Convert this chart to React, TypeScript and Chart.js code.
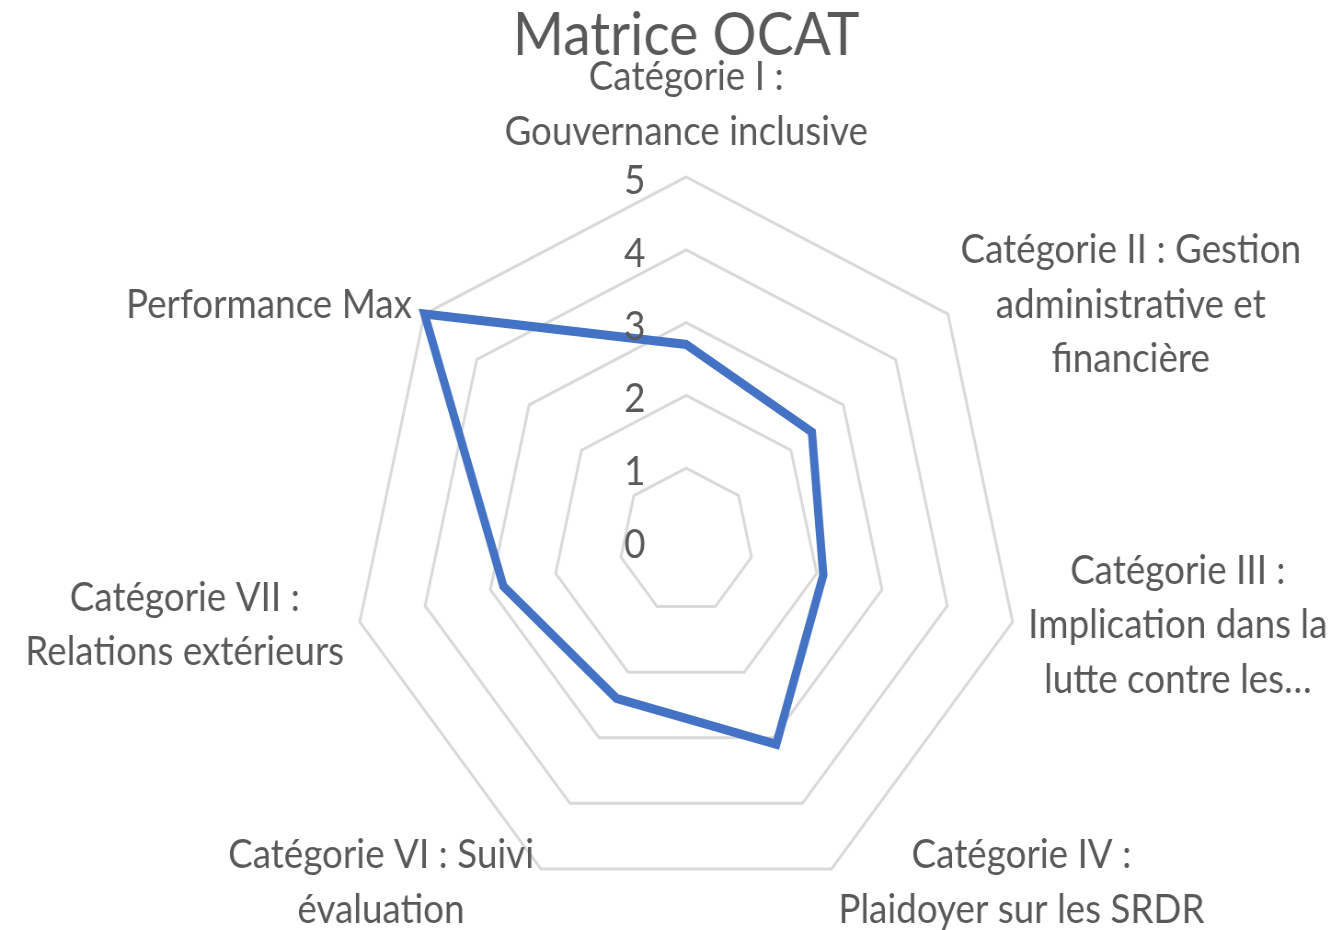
import React, { useEffect, useRef } from "react";
import { Chart, registerables } from "chart.js";

Chart.register(...registerables);

// ---- data ----
const categories: string[][] = [
  ["Catégorie I :", "Gouvernance inclusive"],
  ["Catégorie II : Gestion", "administrative et", "financière"],
  ["Catégorie III :", "Implication dans la", "lutte contre les…"],
  ["Catégorie IV :", "Plaidoyer sur les SRDR"],
  ["Catégorie VI : Suivi", "évaluation"],
  ["Catégorie VII :", "Relations extérieurs"],
  ["Performance Max"],
];
const scores: number[] = [2.7, 2.4, 2.1, 3.1, 2.4, 2.8, 5];
const tickValues: number[] = [0, 1, 2, 3, 4, 5];
const chartTitle = "Matrice OCAT";
const seriesName = "Score OCAT";

// ---- styles ----
const CSS_W = 1342;
const CSS_H = 930;
const SX = 0.92; // horizontal squeeze of the reference picture
const INT_W = Math.round(CSS_W / SX);
const FONT = "Lato, 'Open Sans', sans-serif";
const TEXT = "#595959";
const LABEL_SIZE = 40;
const LINE_H = 54.5;

const labelPlugin = {
  id: "ocatLabels",
  afterDatasetsDraw(chart: any) {
    const r = chart.scales.r;
    const ctx = chart.ctx;
    const n = categories.length;
    ctx.save();
    ctx.fillStyle = TEXT;
    ctx.font = `${LABEL_SIZE}px ${FONT}`;
    ctx.textBaseline = "middle";
    ctx.textAlign = "center";
    // point labels: block placed beside the vertex, lines centred inside block
    categories.forEach((lines, i) => {
      const p = r.getPointPositionForValue(i, r.max);
      const a = (i * 2 * Math.PI) / n;
      const s = Math.sin(a);
      const c = Math.cos(a);
      const blockH = lines.length * LINE_H;
      const blockW = Math.max(...lines.map((l) => ctx.measureText(l).width));
      let cx = p.x;
      let cy: number;
      if (Math.abs(s) < 0.05) {
        cy = p.y - 18 - blockH / 2;
      } else {
        const edge = p.x + (16 * s) / SX;
        cx = s > 0 ? edge + blockW / 2 : edge - blockW / 2;
        cy = p.y - 15 * c;
      }
      lines.forEach((l, k) => {
        ctx.fillText(l, cx, cy - blockH / 2 + LINE_H * (k + 0.5));
      });
    });
    // radial tick labels
    tickValues.forEach((v) => {
      const p = r.getPointPositionForValue(0, v);
      ctx.fillText(String(v), p.x - 56, p.y + 4);
    });
    ctx.restore();
  },
};

export default function App() {
  const ref = useRef<HTMLCanvasElement | null>(null);
  useEffect(() => {
    if (!ref.current) return;
    const chart = new Chart(ref.current, {
      type: "radar",
      data: {
        labels: categories,
        datasets: [
          {
            label: seriesName,
            data: scores,
            borderColor: "#4472C4",
            backgroundColor: "rgba(0,0,0,0)",
            borderWidth: 9,
            fill: false,
            pointRadius: 0,
            pointHoverRadius: 0,
            tension: 0,
            borderJoinStyle: "miter",
          },
        ],
      },
      options: {
        responsive: false,
        animation: false,
        devicePixelRatio: 1,
        layout: { padding: { top: 0, left: 382, right: 349, bottom: 25 } },
        plugins: {
          legend: { display: false },
          tooltip: { enabled: false },
          title: {
            display: true,
            text: chartTitle,
            color: TEXT,
            font: { family: FONT, size: 60, weight: "normal", lineHeight: 1.2 },
            padding: { top: 0, bottom: 105 },
          },
        },
        scales: {
          r: {
            min: 0,
            max: 5,
            ticks: { stepSize: 1, display: false },
            grid: { color: "#D9D9D9", lineWidth: 3 },
            angleLines: { display: false },
            pointLabels: { display: false },
          },
        },
      },
      plugins: [labelPlugin],
    });
    return () => chart.destroy();
  }, []);
  return (
    <div style={{ position: "absolute", left: 0, top: 0, background: "#fff" }}>
      <canvas
        ref={ref}
        width={INT_W}
        height={CSS_H}
        style={{ width: `${CSS_W}px`, height: `${CSS_H}px`, display: "block" }}
      />
    </div>
  );
}
